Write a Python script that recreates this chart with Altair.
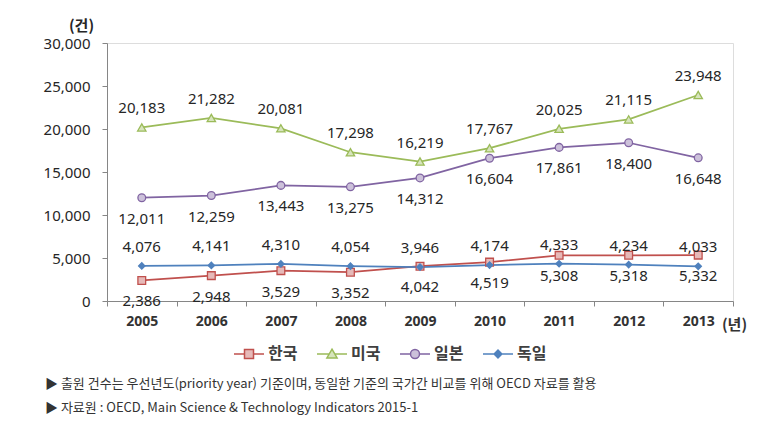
import altair as alt
import pandas as pd

years = [2005, 2006, 2007, 2008, 2009, 2010, 2011, 2012, 2013]
countries = ["한국", "미국", "일본", "독일"]
korea = [2386, 2948, 3529, 3352, 4042, 4519, 5308, 5318, 5332]
usa = [20183, 21282, 20081, 17298, 16219, 17767, 20025, 21115, 23948]
japan = [12011, 12259, 13443, 13275, 14312, 16604, 17861, 18400, 16648]
germany = [4076, 4141, 4310, 4054, 3946, 4174, 4333, 4234, 4033]
above_series = ["미국", "독일"]
below_series = ["한국", "일본"]
y_ticks = [0, 5000, 10000, 15000, 20000, 25000, 30000]
footnotes = [
    "▶ 출원 건수는 우선년도(priority year) 기준이며, 동일한 기준의 국가간 비교를 위해 OECD 자료를 활용",
    "▶ 자료원 : OECD, Main Science & Technology Indicators 2015-1",
]

line_colors = ["#C0504D", "#9BBB59", "#8064A2", "#4F81BD"]
fill_colors = ["#E6B9B8", "#D7E4BD", "#CCC1DA", "#4F81BD"]
marker_shapes = ["square", "triangle-up", "circle", "diamond"]
marker_sizes = [60, 70, 60, 40]
legend_paths = [
    "M-1,0H-0.3M0.3,0H1M-0.3,-0.3H0.3V0.3H-0.3Z",
    "M-1,0H-0.2M0.2,0H1M0,-0.32L0.34,0.26H-0.34Z",
    "M-1,0H-0.3M0.3,0H1M-0.3,0A0.3,0.3 0 1,0 0.3,0A0.3,0.3 0 1,0 -0.3,0Z",
    "M-1,0H-0.26M0.26,0H1M-0.26,0L0,-0.26L0.26,0L0,0.26Z",
]

rows = []
for c, vals in zip(countries, [korea, usa, japan, germany]):
    for yr, v in zip(years, vals):
        rows.append({"연도": yr, "국가": c, "건수": v})
df = pd.DataFrame(rows)

x_values = [yr - 0.5 for yr in years] + [years[-1] + 0.5] + years

stroke_scale = alt.Scale(domain=countries, range=line_colors)
fill_scale = alt.Scale(domain=countries, range=fill_colors)
legend_shape_scale = alt.Scale(domain=countries, range=legend_paths)

x = alt.X(
    "연도:Q",
    scale=alt.Scale(domain=[years[0] - 0.5, years[-1] + 0.5], nice=False, zero=False),
    axis=alt.Axis(
        values=x_values,
        labelExpr="datum.value % 1 == 0 ? format(datum.value, 'd') : ''",
        tickOpacity={"condition": {"test": "datum.value % 1 == 0", "value": 0}, "value": 1},
        tickSize=5,
        tickColor="#868686",
        domainColor="#868686",
        grid=False,
        labelFont="Noto Sans",
        labelFontSize=14,
        labelFontWeight="bold",
        labelColor="#333333",
        labelPadding=8,
        labelFlush=False,
        labelOverlap=False,
        title="(년)",
        titleFont="Noto Sans CJK KR",
        titleFontSize=15,
        titleFontWeight="bold",
        titleColor="#333333",
        titleAngle=0,
        titleAlign="center",
        titleBaseline="middle",
        titleX=627,
        titleY=23,
    ),
)
y = alt.Y(
    "건수:Q",
    scale=alt.Scale(domain=[0, 30000], nice=False),
    axis=alt.Axis(
        values=y_ticks,
        labelExpr="format(datum.value, ',d')",
        tickSize=5,
        tickColor="#868686",
        domainColor="#868686",
        grid=False,
        labelFont="Noto Sans",
        labelFontSize=15,
        labelColor="#262626",
        labelPadding=12,
        title="(건)",
        titleFont="Noto Sans CJK KR",
        titleFontSize=15,
        titleFontWeight="bold",
        titleColor="#262626",
        titleAngle=0,
        titleAlign="center",
        titleBaseline="middle",
        titleX=-26,
        titleY=-18,
    ),
)

legend = alt.Legend(
    orient="none",
    legendX=126,
    legendY=295,
    direction="horizontal",
    title=None,
    symbolSize=900,
    symbolStrokeWidth=1.5,
    labelFont="Noto Sans CJK KR",
    labelFontSize=16,
    labelFontWeight="bold",
    labelColor="#404040",
    labelOffset=3,
    columnPadding=16,
)
legend_layer = alt.Chart(df).transform_filter("false").mark_point(
    filled=True, strokeWidth=1.5, opacity=1
).encode(
    x=x,
    y=y,
    stroke=alt.Stroke("국가:N", scale=stroke_scale, legend=legend),
    fill=alt.Fill("국가:N", scale=fill_scale, legend=legend),
    shape=alt.Shape("국가:N", scale=legend_shape_scale, legend=legend),
)

base = alt.Chart(df).encode(x=x, y=y)

lines = base.mark_line(strokeWidth=1.75).encode(
    stroke=alt.Stroke("국가:N", scale=stroke_scale, legend=None)
)

point_layers = []
for c, shp, sz in zip(countries, marker_shapes, marker_sizes):
    point_layers.append(
        base.transform_filter(alt.FieldEqualPredicate(field="국가", equal=c))
        .mark_point(filled=True, shape=shp, size=sz, strokeWidth=1.3, opacity=1)
        .encode(
            stroke=alt.Stroke("국가:N", scale=stroke_scale, legend=None),
            fill=alt.Fill("국가:N", scale=fill_scale, legend=None),
        )
    )

label_style = dict(font="Noto Sans", fontSize=15, color="#262626")
labels_above = base.transform_filter(
    alt.FieldOneOfPredicate(field="국가", oneOf=above_series)
).mark_text(dy=-19, **label_style).encode(text=alt.Text("건수:Q", format=","))
labels_below = base.transform_filter(
    alt.FieldOneOfPredicate(field="국가", oneOf=below_series)
).mark_text(dy=21, **label_style).encode(text=alt.Text("건수:Q", format=","))

chart = alt.layer(legend_layer, lines, *point_layers, labels_above, labels_below).properties(
    width=626,
    height=258,
    autosize=alt.AutoSizeParams(type="none"),
    padding={"left": 99, "top": 35, "right": 41, "bottom": 116},
    title=alt.TitleParams(
        text=footnotes,
        orient="bottom",
        anchor="start",
        frame="group",
        dx=-62,
        offset=16,
        font="Noto Sans CJK KR",
        fontSize=13,
        fontWeight="normal",
        color="#333333",
        lineHeight=24,
    ),
).configure_view(stroke=None).configure(background="white")

chart.save("out.html", embed_options={"renderer": "svg", "actions": False})
